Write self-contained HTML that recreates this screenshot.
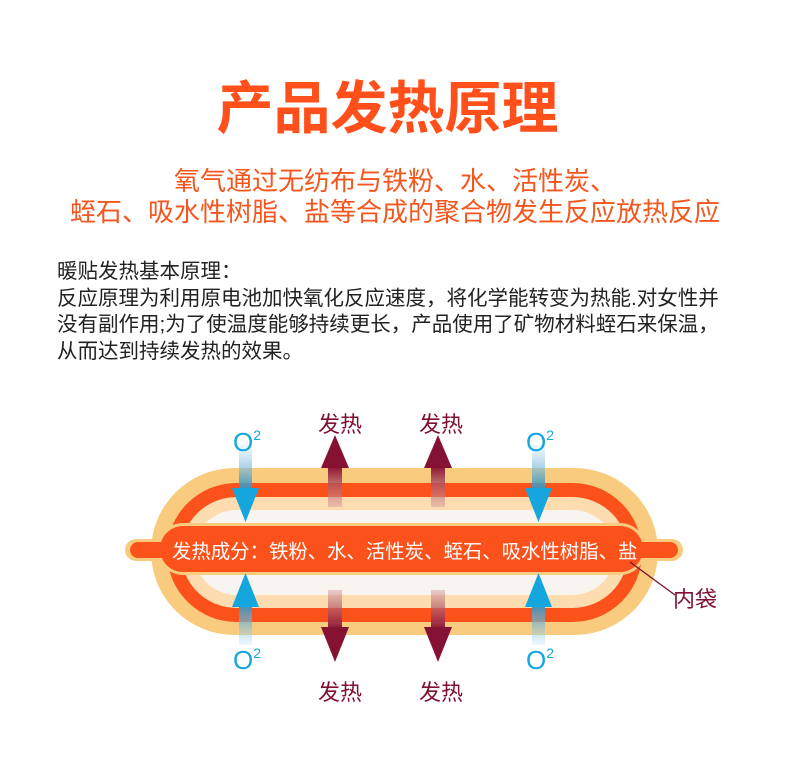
<!DOCTYPE html>
<html><head><meta charset="utf-8"><style>
html,body{margin:0;padding:0;background:#fff;width:790px;height:758px;overflow:hidden;position:relative;font-family:"Liberation Sans","Noto Sans CJK SC",sans-serif}
.t{position:absolute;white-space:nowrap}
</style></head><body>
<div class="t" style="left:0;width:775px;text-align:center;top:76px;font-size:57px;font-weight:bold;color:#FF501C;line-height:66px">产品发热原理</div>
<div class="t" style="left:0;width:790px;text-align:center;top:166px;font-size:26px;color:#F5561E;line-height:31px">氧气通过无纺布与铁粉、水、活性炭、<br>蛭石、吸水性树脂、盐等合成的聚合物发生反应放热反应</div>
<div class="t" style="left:57px;top:259px;font-size:20.5px;color:#222;line-height:26.7px">暖贴发热基本原理：<br>反应原理为利用原电池加快氧化反应速度，将化学能转变为热能.对女性并<br>没有副作用;为了使温度能够持续更长，产品使用了矿物材料蛭石来保温，<br>从而达到持续发热的效果。</div>
<svg width="790" height="758" style="position:absolute;left:0;top:0">
<defs>
<linearGradient id="bd" x1="0" y1="0" x2="0" y2="1"><stop offset="0" stop-color="#bfe6f7" stop-opacity=".3"/><stop offset="1" stop-color="#3a8fb5"/></linearGradient>
<linearGradient id="bu" x1="0" y1="1" x2="0" y2="0"><stop offset="0" stop-color="#bfe6f7" stop-opacity=".3"/><stop offset="1" stop-color="#3a8fb5"/></linearGradient>
<linearGradient id="ru" x1="0" y1="1" x2="0" y2="0"><stop offset="0" stop-color="#d9a0a0" stop-opacity=".5"/><stop offset="1" stop-color="#8a1030"/></linearGradient>
<linearGradient id="rd" x1="0" y1="0" x2="0" y2="1"><stop offset="0" stop-color="#d9a0a0" stop-opacity=".5"/><stop offset="1" stop-color="#8a1030"/></linearGradient>
</defs>
<rect x="151" y="468" width="507" height="167" rx="83.5" fill="#F8CB7E"/>
<rect x="167" y="483" width="475" height="139" rx="69.5" fill="#FB521C"/>
<rect x="181" y="497" width="447" height="111" rx="55.5" fill="#FDDCB0"/>
<rect x="194" y="510" width="421" height="85" rx="42.5" fill="#F8F4F0"/>
<rect x="125" y="539" width="558" height="22" rx="11" fill="#F8CB7E"/>
<rect x="157" y="523" width="489" height="52" rx="26" fill="#F8CB7E"/>
<rect x="130" y="542" width="548" height="16" rx="8" fill="#FB521C"/>
<rect x="160" y="526" width="483" height="46" rx="23" fill="#FB521C"/>
<text x="172" y="558" font-size="19.4" fill="#fff" font-family="Liberation Sans,Noto Sans CJK SC,sans-serif">发热成分：铁粉、水、活性炭、蛭石、吸水性树脂、盐</text>
<line x1="630" y1="562" x2="675" y2="595" stroke="#7F1030" stroke-width="1.3"/>
<text x="673" y="607" font-size="22" fill="#7F1030" font-family="Liberation Sans,Noto Sans CJK SC,sans-serif">内袋</text>
<g>
<rect x="239" y="445" width="13" height="45" fill="url(#bd)"/><polygon points="232,488 259,488 245.5,522" fill="#14A6DC"/>
<rect x="532" y="445" width="13" height="45" fill="url(#bd)"/><polygon points="525,488 552,488 538.5,522" fill="#14A6DC"/>
<rect x="239" y="605" width="13" height="40" fill="url(#bu)"/><polygon points="232,607 259,607 245.5,573" fill="#14A6DC"/>
<rect x="532" y="605" width="13" height="40" fill="url(#bu)"/><polygon points="525,607 552,607 538.5,573" fill="#14A6DC"/>
</g>
<g fill="#14A6DC" font-family="Liberation Sans,DejaVu Sans,sans-serif">
<text x="233" y="451" font-size="26">O<tspan font-size="14" dy="-11">2</tspan></text>
<text x="526" y="451" font-size="26">O<tspan font-size="14" dy="-11">2</tspan></text>
<text x="233" y="669" font-size="26">O<tspan font-size="14" dy="-11">2</tspan></text>
<text x="526" y="669" font-size="26">O<tspan font-size="14" dy="-11">2</tspan></text>
</g>
<rect x="328" y="466" width="14" height="41" fill="url(#ru)"/><polygon points="321,468 349,468 335,435" fill="#851133"/>
<rect x="431" y="466" width="14" height="41" fill="url(#ru)"/><polygon points="424,468 452,468 438,435" fill="#851133"/>
<rect x="328" y="590" width="14" height="39" fill="url(#rd)"/><polygon points="321,627 349,627 335,662" fill="#851133"/>
<rect x="431" y="590" width="14" height="39" fill="url(#rd)"/><polygon points="424,627 452,627 438,662" fill="#851133"/>
<g fill="#7F1030" font-size="22" font-family="Liberation Sans,Noto Sans CJK SC,sans-serif" text-anchor="middle">
<text x="340" y="432">发热</text><text x="441" y="432">发热</text>
<text x="340" y="700">发热</text><text x="441" y="700">发热</text>
</g>
</svg>
</body></html>
